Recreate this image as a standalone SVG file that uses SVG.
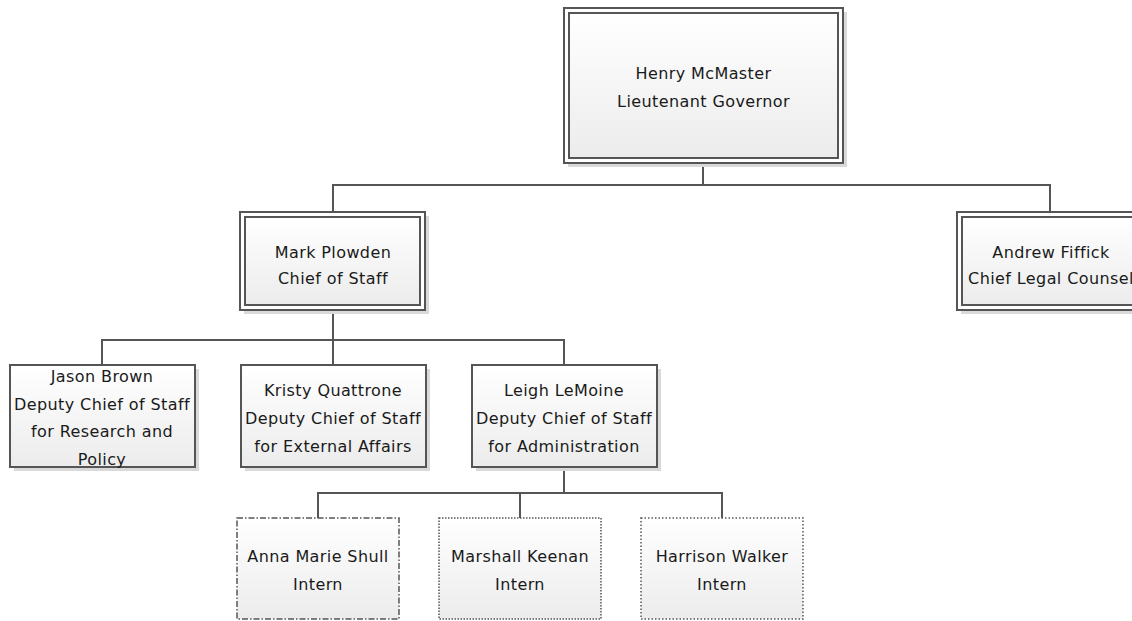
<svg xmlns="http://www.w3.org/2000/svg" width="1132" height="621" viewBox="0 0 1132 621">
<defs>
<linearGradient id="g" x1="0" y1="0" x2="0" y2="1">
<stop offset="0" stop-color="#ffffff"/>
<stop offset="1" stop-color="#ececec"/>
</linearGradient>
</defs>
<style>
.sh{fill:#d9d9d9;}
.box{fill:url(#g);stroke:#555555;stroke-width:2;}
.outer{fill:#ffffff;stroke:#555555;stroke-width:2;}
.inner{fill:url(#g);stroke:#555555;stroke-width:2;}
.dashdot{fill:url(#g);stroke:#555555;stroke-width:1.5;stroke-dasharray:6 2 1.5 2;}
.dot1{fill:url(#g);stroke:#555555;stroke-width:1.5;stroke-dasharray:1.5 1.5;}
.dot2{fill:url(#g);stroke:#555555;stroke-width:1.5;stroke-dasharray:1.5 2;}
.conn{fill:none;stroke:#555555;stroke-width:2;}
text{font-family:"DejaVu Sans","Liberation Sans",sans-serif;font-size:16px;fill:#1a1a1a;text-anchor:middle;letter-spacing:0.4px;}
</style>
<rect width="1132" height="621" fill="#ffffff"/>
<g id="connectors">
<polyline class="conn" points="703,163 703,185"/>
<polyline class="conn" points="333,212 333,185 1050,185 1050,212"/>
<polyline class="conn" points="333,310 333,340"/>
<polyline class="conn" points="102,365 102,340 564,340 564,365"/>
<polyline class="conn" points="333,340 333,365"/>
<polyline class="conn" points="564,467 564,493"/>
<polyline class="conn" points="318,518 318,493 722,493 722,518"/>
<polyline class="conn" points="520,493 520,518"/>
</g>
<g id="henry">
<rect class="sh" x="568" y="12" width="279" height="155"/>
<rect class="outer" x="564" y="8" width="279" height="155"/>
<rect class="inner" x="569" y="13" width="269" height="145"/>
<text x="703.5" y="79">Henry McMaster</text>
<text x="703.5" y="107">Lieutenant Governor</text>
</g>
<g id="mark">
<rect class="sh" x="244" y="216" width="185" height="98"/>
<rect class="outer" x="240" y="212" width="185" height="98"/>
<rect class="inner" x="245" y="217" width="175" height="88"/>
<text x="333" y="258">Mark Plowden</text>
<text x="333" y="284">Chief of Staff</text>
</g>
<g id="andrew">
<rect class="sh" x="961" y="216" width="186" height="98"/>
<rect class="outer" x="957" y="212" width="186" height="98"/>
<rect class="inner" x="962" y="217" width="176" height="88"/>
<text x="1051" y="258">Andrew Fiffick</text>
<text x="1051" y="284">Chief Legal Counsel</text>
</g>
<g id="jason">
<rect class="sh" x="14" y="369" width="185" height="102"/>
<rect class="box" x="10" y="365" width="185" height="102"/>
<text x="102" y="382">Jason Brown</text>
<text x="102" y="410">Deputy Chief of Staff</text>
<text x="102" y="437">for Research and</text>
<text x="102" y="465">Policy</text>
</g>
<g id="kristy">
<rect class="sh" x="245" y="369" width="185" height="102"/>
<rect class="box" x="241" y="365" width="185" height="102"/>
<text x="333" y="396">Kristy Quattrone</text>
<text x="333" y="424">Deputy Chief of Staff</text>
<text x="333" y="452">for External Affairs</text>
</g>
<g id="leigh">
<rect class="sh" x="476" y="369" width="185" height="102"/>
<rect class="box" x="472" y="365" width="185" height="102"/>
<text x="564" y="396">Leigh LeMoine</text>
<text x="564" y="424">Deputy Chief of Staff</text>
<text x="564" y="452">for Administration</text>
</g>
<g id="anna">
<rect class="dashdot" x="237" y="518" width="162" height="101"/>
<text x="318" y="562">Anna Marie Shull</text>
<text x="318" y="590">Intern</text>
</g>
<g id="marshall">
<rect class="dot1" x="439" y="518" width="162" height="101"/>
<text x="520" y="562">Marshall Keenan</text>
<text x="520" y="590">Intern</text>
</g>
<g id="harrison">
<rect class="dot2" x="641" y="518" width="162" height="101"/>
<text x="722" y="562">Harrison Walker</text>
<text x="722" y="590">Intern</text>
</g>
</svg>
